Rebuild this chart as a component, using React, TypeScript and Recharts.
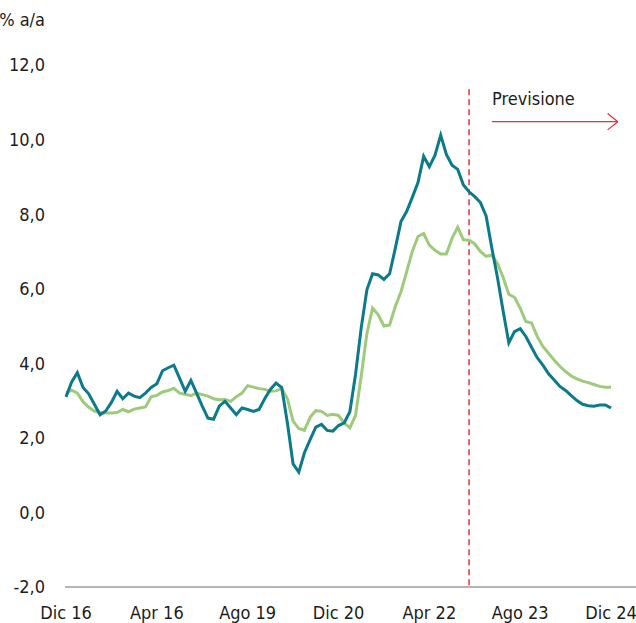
import { LineChart, Line, XAxis, YAxis, ReferenceLine } from "recharts";

const TEAL = "#0b7a8b";
const GREEN = "#9dcb7b";
const RED = "#e2323c";
const TEXT = "#1d1d1b";
const FONT = "'DejaVu Sans Condensed', 'Liberation Sans Narrow', sans-serif";

// mensile, Dic 16 -> Dic 24 (97 mesi)
const headline = [
  3.1, 3.5, 3.75, 3.35, 3.18, 2.9, 2.62, 2.72, 2.95, 3.25,
  3.05, 3.2, 3.12, 3.08, 3.2, 3.35, 3.45, 3.8, 3.88, 3.95,
  3.6, 3.25, 3.54, 3.2, 2.85, 2.53, 2.5, 2.85, 2.98, 2.8,
  2.62, 2.8, 2.76, 2.71, 2.76, 3.05, 3.3, 3.47, 3.35, 2.4,
  1.3, 1.08, 1.6, 1.95, 2.29, 2.36, 2.2, 2.18, 2.33, 2.4,
  2.7, 3.7, 4.95, 5.97, 6.4, 6.37, 6.25, 6.4, 7.08, 7.8,
  8.07, 8.45, 8.85, 9.55, 9.27, 9.58, 10.12, 9.6, 9.31, 9.2,
  8.78, 8.6, 8.47, 8.31, 7.95, 7.1, 6.3, 5.4, 4.55, 4.85,
  4.93, 4.72, 4.43, 4.15, 3.95, 3.72, 3.55, 3.38, 3.27, 3.13,
  3.0, 2.9, 2.86, 2.85, 2.88, 2.88, 2.8,
];

const core = [
  3.2, 3.28, 3.2, 2.97, 2.82, 2.72, 2.68, 2.67, 2.67, 2.68,
  2.76, 2.7, 2.77, 2.8, 2.83, 3.1, 3.14, 3.23, 3.27, 3.33,
  3.2, 3.17, 3.13, 3.2, 3.16, 3.12, 3.05, 3.02, 3.03, 2.98,
  3.1, 3.2, 3.4, 3.36, 3.32, 3.3, 3.25, 3.26, 3.32, 3.05,
  2.45, 2.25, 2.2, 2.55, 2.73, 2.71, 2.6, 2.63, 2.6, 2.4,
  2.27, 2.6, 3.65, 4.8, 5.48, 5.3, 5.0, 5.03, 5.52, 5.92,
  6.45, 7.0, 7.4, 7.48, 7.17, 7.03, 6.93, 6.93, 7.35, 7.65,
  7.31, 7.3, 7.2, 7.0, 6.87, 6.9, 6.68, 6.3, 5.85, 5.77,
  5.48, 5.12, 5.08, 4.72, 4.45, 4.27, 4.08, 3.92, 3.78, 3.66,
  3.58, 3.52, 3.48, 3.43, 3.38, 3.36, 3.36,
];

const tickIdx = [0, 16, 32, 48, 64, 80, 96];
const tickLabels = ["Dic 16", "Apr 16", "Ago 19", "Dic 20", "Apr 22", "Ago 23", "Dic 24"];
const yTicks = [-2, 0, 2, 4, 6, 8, 10, 12];
const forecastStart = 71;

const data = headline.map((v, i) => ({ i, headline: v, core: core[i] }));

const fmtY = (v: number) => v.toFixed(1).replace(".", ",");
const fmtX = (v: number) => tickLabels[tickIdx.indexOf(v)] ?? "";

export default function App() {
  return (
    <div style={{ position: "absolute", left: 0, top: 0, width: 636, height: 623, background: "#fff", fontFamily: FONT }}>
      <div style={{ position: "absolute", right: 636 - 45, top: 9, fontSize: 18, color: TEXT, whiteSpace: "nowrap" }}>
        % a/a
      </div>
      <div style={{ position: "absolute", left: 492, top: 88, fontSize: 18, color: TEXT }}>Previsione</div>
      <LineChart width={636} height={623} data={data} margin={{ top: 65, right: 0, left: 0, bottom: 0 }}>
        <XAxis
          dataKey="i"
          type="number"
          domain={[0, 96]}
          ticks={tickIdx}
          tickFormatter={fmtX}
          interval={0}
          padding={{ left: 1, right: 25 }}
          tickLine={false}
          tickSize={0}
          tickMargin={19}
          height={36}
          axisLine={{ stroke: "#6b6b6b", strokeWidth: 1 }}
          tick={{ fontSize: 18, fill: TEXT, fontFamily: FONT }}
        />
        <YAxis
          domain={[-2, 12]}
          ticks={yTicks}
          tickFormatter={fmtY}
          axisLine={false}
          tickLine={false}
          tickSize={0}
          tickMargin={20}
          width={65}
          tick={{ fontSize: 18, fill: TEXT, fontFamily: FONT }}
        />
        <ReferenceLine
          segment={[{ x: forecastStart, y: 11.35 }, { x: forecastStart, y: -2 }]}
          stroke={RED}
          strokeWidth={1.5}
          strokeDasharray="6 4"
        />
        <ReferenceLine
          segment={[{ x: 75, y: 10.48 }, { x: 97.2, y: 10.48 }]}
          stroke={RED}
          strokeWidth={1.2}
          ifOverflow="visible"
        />
        <ReferenceLine
          segment={[{ x: 95.4, y: 10.7 }, { x: 97.2, y: 10.48 }]}
          stroke={RED}
          strokeWidth={1.2}
          ifOverflow="visible"
        />
        <ReferenceLine
          segment={[{ x: 95.4, y: 10.26 }, { x: 97.2, y: 10.48 }]}
          stroke={RED}
          strokeWidth={1.2}
          ifOverflow="visible"
        />
        <Line
          dataKey="core"
          type="linear"
          stroke={GREEN}
          strokeWidth={3}
          dot={false}
          isAnimationActive={false}
        />
        <Line
          dataKey="headline"
          type="linear"
          stroke={TEAL}
          strokeWidth={3}
          dot={false}
          isAnimationActive={false}
        />
      </LineChart>
    </div>
  );
}
